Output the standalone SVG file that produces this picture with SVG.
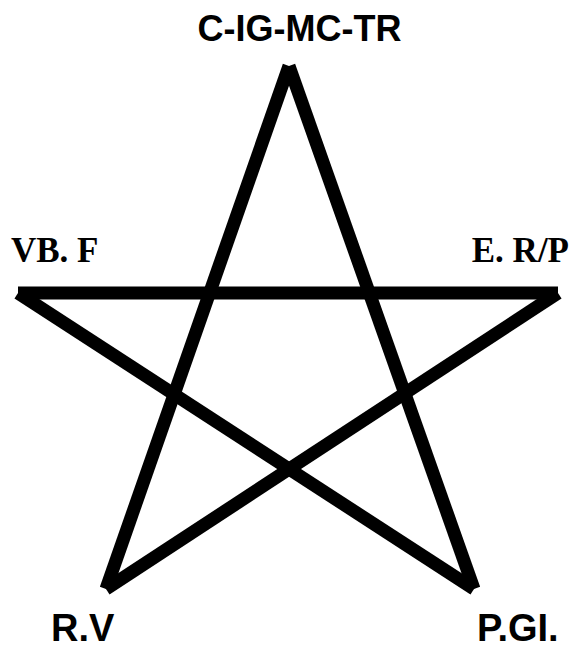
<svg xmlns="http://www.w3.org/2000/svg" width="578" height="649" viewBox="0 0 578 649">
<style>
.edge{stroke:#000;stroke-width:13;stroke-linecap:butt;fill:none}
.sans{font-family:"Liberation Sans",Arial,sans-serif;font-weight:bold;fill:#000}
.serif{font-family:"Liberation Serif","Times New Roman",serif;font-weight:bold;fill:#000}
</style>
<rect width="578" height="649" fill="#fff"/>
<g id="connectors">
<line class="edge" x1="289" y1="66" x2="106" y2="589"/>
<line class="edge" x1="289" y1="66" x2="474" y2="589"/>
<line class="edge" x1="18" y1="293" x2="558" y2="293"/>
<line class="edge" x1="18" y1="293" x2="474" y2="589"/>
<line class="edge" x1="558" y1="293" x2="106" y2="589"/>
</g>
<g id="node-top"><text class="sans" x="299.5" y="41" font-size="36" text-anchor="middle">C-IG-MC-TR</text></g>
<g id="node-left"><text class="serif" x="11" y="262" font-size="35">VB. F</text></g>
<g id="node-right"><text class="serif" x="569" y="262" font-size="35" text-anchor="end">E. R/P</text></g>
<g id="node-bottom-left"><text class="sans" x="51" y="641" font-size="38">R.V</text></g>
<g id="node-bottom-right"><text class="sans" x="477" y="641" font-size="38">P.GI.</text></g>
</svg>
